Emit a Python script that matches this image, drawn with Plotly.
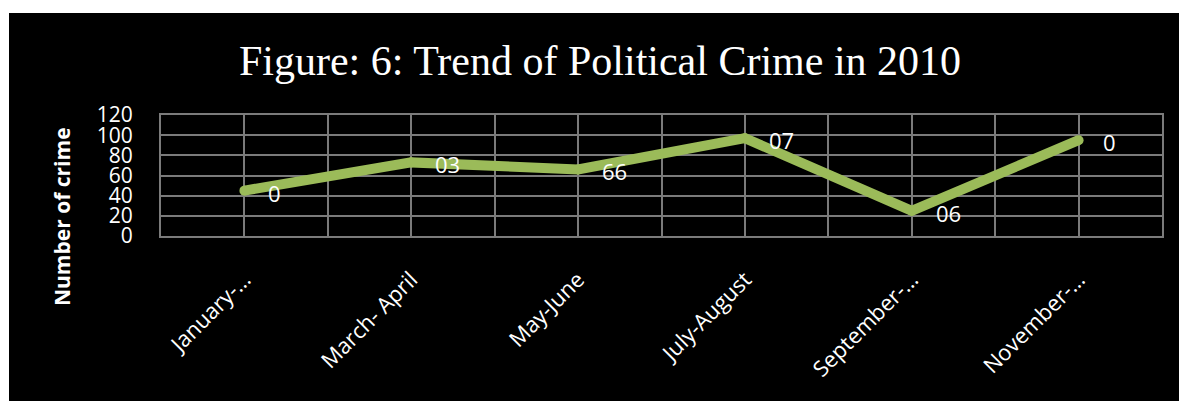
import plotly.graph_objects as go

categories = ["January-…", "March- April", "May-June", "July-August", "September-…", "November-…"]
values = [45, 73, 66, 97, 25, 95]
labels = ["0", "03", "66", "07", "06", "0"]
y_ticks = [0, 20, 40, 60, 80, 100, 120]

W, H = 1179, 401
ml, mr, mt, mb = 161, 17, 115, 165

x = list(range(len(categories)))
green = "#9BBB59"
grid = "#7b7b7b"

fig = go.Figure()
fig.add_trace(go.Scatter(
    x=x, y=values, mode="lines+markers",
    line=dict(color=green, width=10),
    marker=dict(color=green, size=10),
    hoverinfo="skip", showlegend=False,
))

for xi, v, t in zip(x, values, labels):
    fig.add_annotation(
        x=xi, y=v, xref="x", yref="y", text=t, showarrow=False,
        xanchor="left", yanchor="middle", xshift=22, yshift=-2,
        font=dict(family="Open Sans", size=22, color="white"),
    )

tickvals = []
ticktext = []
for i, c in enumerate(categories):
    tickvals += [i - 0.5, i]
    ticktext += ["", c]
tickvals.append(len(categories) - 0.5)
ticktext.append("")

fig.update_layout(
    width=W, height=H,
    margin=dict(l=ml, r=mr, t=mt, b=mb, pad=0),
    paper_bgcolor="white",
    plot_bgcolor="#404040",
    title=dict(
        text="Figure: 6: Trend of Political Crime in 2010",
        x=600 / W, xanchor="center", xref="container",
        y=1 - 60 / H, yanchor="middle",
        font=dict(family="Liberation Serif", size=42, color="white"),
    ),
    xaxis=dict(
        range=[-0.5, len(categories) - 0.5],
        tickmode="array", tickvals=tickvals, ticktext=ticktext,
        tickangle=-45,
        showgrid=True, gridcolor=grid, gridwidth=2,
        showline=True, linecolor=grid, linewidth=2, mirror=True,
        zeroline=False,
        ticks="", ticklabelstandoff=20,
        tickfont=dict(family="Open Sans", size=22, color="white"),
        fixedrange=True,
    ),
    yaxis=dict(
        range=[0, 120], tickvals=y_ticks,
        showgrid=True, gridcolor=grid, gridwidth=2,
        showline=True, linecolor=grid, linewidth=2, mirror=True,
        zeroline=False,
        ticks="", ticklabelstandoff=22,
        tickfont=dict(family="Open Sans", size=21, color="white"),
        fixedrange=True,
    ),
    shapes=[dict(
        type="rect", xref="paper", yref="paper", layer="below",
        x0=(9 - ml) / (W - ml - mr), x1=1.0 + (mr + 5) / (W - ml - mr),
        y0=-(mb + 5) / (H - mt - mb), y1=1 + (mt - 13) / (H - mt - mb),
        fillcolor="black", line=dict(width=0),
    )],
)

fig.add_annotation(
    x=(62 - ml) / (W - ml - mr), y=(236 - 217) / (H - mt - mb),
    xref="paper", yref="paper", text="<b>Number of crime</b>",
    textangle=-90, showarrow=False, xanchor="center", yanchor="middle",
    font=dict(family="Open Sans", size=21, color="white"),
)

fig.write_html("out.html")
